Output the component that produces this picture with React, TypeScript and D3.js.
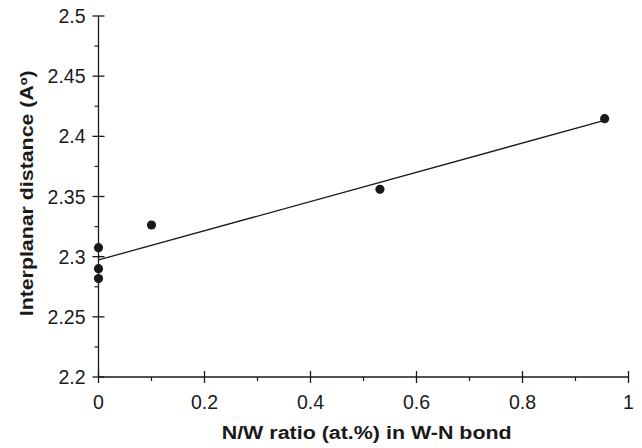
import React from "react";
import * as d3 from "d3";

const xValues = [0, 0, 0, 0.1, 0.531, 0.955];
const yValues = [2.3075, 2.29, 2.2818, 2.3263, 2.356, 2.4147];
const xTicks = [0, 0.2, 0.4, 0.6, 0.8, 1];
const xTickLabels = ["0", "0.2", "0.4", "0.6", "0.8", "1"];
const yTicks = [2.2, 2.25, 2.3, 2.35, 2.4, 2.45, 2.5];
const yTickLabels = ["2.2", "2.25", "2.3", "2.35", "2.4", "2.45", "2.5"];
const xMinor = [0.1, 0.3, 0.5, 0.7, 0.9];
const yMinor = [2.225, 2.275, 2.325, 2.375, 2.425, 2.475];
const fitRange = [0, 0.955];

const W = 642;
const H = 448;
const L = 98.5;
const R = 628.5;
const T = 16;
const B = 377;

export default function App() {
  const x = d3.scaleLinear().domain([0, 1]).range([L, R]);
  const y = d3.scaleLinear().domain([2.2, 2.5]).range([B, T]);

  const n = xValues.length;
  const mx = d3.mean(xValues) as number;
  const my = d3.mean(yValues) as number;
  let sxy = 0, sxx = 0;
  for (let i = 0; i < n; i++) {
    sxy += (xValues[i] - mx) * (yValues[i] - my);
    sxx += (xValues[i] - mx) ** 2;
  }
  const slope = sxy / sxx;
  const intercept = my - slope * mx;
  const line = d3
    .line<number>()
    .x((d) => x(d))
    .y((d) => y(intercept + slope * d));

  const font = "Liberation Sans, Arial, Helvetica, sans-serif";
  const col = "#1a1a1a";

  return (
    <svg
      width={W}
      height={H}
      style={{ position: "absolute", left: 0, top: 0 }}
      fontFamily={font}
    >
      <rect width={W} height={H} fill="#fff" />
      {/* axes */}
      <line x1={L} x2={L} y1={T} y2={B} stroke={col} strokeWidth={1.3} />
      <line x1={L} x2={R} y1={B} y2={B} stroke={col} strokeWidth={1.3} />
      {yTicks.map((t, i) => (
        <g key={"yt" + i}>
          <line x1={L - 6} x2={L + 6} y1={y(t)} y2={y(t)} stroke={col} strokeWidth={1.3} />
          <text x={L - 13} y={y(t)} dy="0.36em" textAnchor="end" fontSize={19.5} fill={col}>
            {yTickLabels[i]}
          </text>
        </g>
      ))}
      {yMinor.map((t, i) => (
        <line key={"ym" + i} x1={L - 4} x2={L} y1={y(t)} y2={y(t)} stroke={col} strokeWidth={1.2} />
      ))}
      {xTicks.map((t, i) => (
        <g key={"xt" + i}>
          <line x1={x(t)} x2={x(t)} y1={B - 6} y2={B + 6} stroke={col} strokeWidth={1.3} />
          <text x={x(t)} y={B + 32} textAnchor="middle" fontSize={19.5} fill={col}>
            {xTickLabels[i]}
          </text>
        </g>
      ))}
      {xMinor.map((t, i) => (
        <line key={"xm" + i} x1={x(t)} x2={x(t)} y1={B} y2={B + 4} stroke={col} strokeWidth={1.2} />
      ))}
      {/* fit line */}
      <path d={line(fitRange) || ""} fill="none" stroke={col} strokeWidth={1.3} />
      {/* points */}
      {xValues.map((v, i) => (
        <circle key={"p" + i} cx={x(v)} cy={y(yValues[i])} r={4.6} fill={col} />
      ))}
      {/* titles */}
      <text
        x={366.7}
        y={439}
        textAnchor="middle"
        fontSize={18}
        fontWeight="bold"
        fill={col}
        textLength={290}
        lengthAdjust="spacingAndGlyphs"
      >
        N/W ratio (at.%) in W-N bond
      </text>
      <text
        transform={`translate(32.5,193.3) rotate(-90)`}
        textAnchor="middle"
        fontSize={18}
        fontWeight="bold"
        fill={col}
        textLength={246}
        lengthAdjust="spacingAndGlyphs"
      >
        Interplanar distance (Aº)
      </text>
    </svg>
  );
}
